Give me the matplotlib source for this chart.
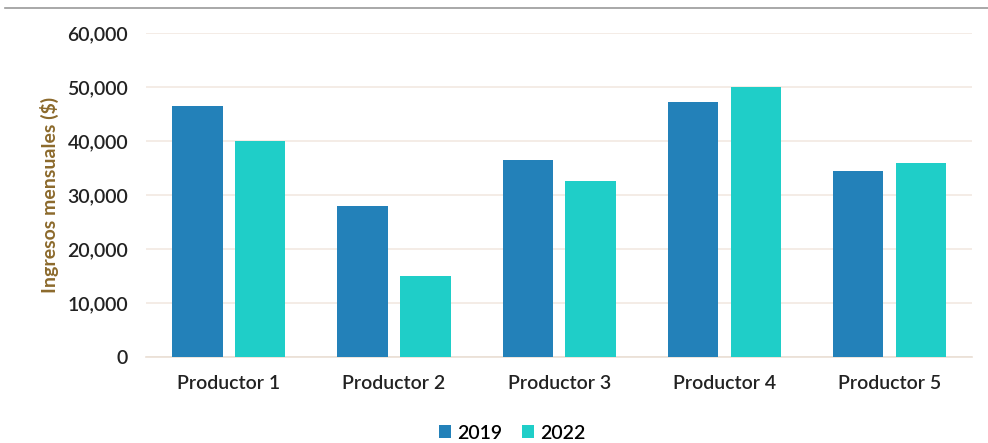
import matplotlib.pyplot as plt
import numpy as np

# Chart data
productores = ['Productor 1', 'Productor 2', 'Productor 3', 'Productor 4', 'Productor 5']
ingresos_2019 = [46600, 27900, 36500, 47200, 34500]
ingresos_2022 = [40000, 15100, 32700, 50000, 35900]
series_labels = ['2019', '2022']

plt.rcParams['font.family'] = ['Lato', 'DejaVu Sans']
plt.rcParams['font.weight'] = 'semibold'

fig = plt.figure(figsize=(9.88, 4.43), dpi=100)
ax = fig.add_axes([0.148, 0.194, 0.836, 0.731])

x = np.arange(len(productores))
width = 0.305
offset = 0.19

ax.bar(x - offset, ingresos_2019, width, color='#2381b9', label=series_labels[0], zorder=3)
ax.bar(x + offset, ingresos_2022, width, color='#1fcec8', label=series_labels[1], zorder=3)

ax.set_xlim(-0.5, len(productores) - 0.5)
ax.set_ylim(0, 60000)
ax.set_yticks(np.arange(0, 60001, 10000))
ax.set_yticklabels([f'{v:,}' for v in range(0, 60001, 10000)])
ax.set_xticks(x)
ax.set_xticklabels(productores)

ax.grid(axis='y', color='#f2e9e1', linewidth=1.2, zorder=0)
for s in ['top', 'right', 'left']:
    ax.spines[s].set_visible(False)
ax.spines['bottom'].set_color('#eadfd5')
ax.spines['bottom'].set_linewidth(1.2)
ax.tick_params(axis='both', length=0, labelsize=14, labelcolor='#222222')
ax.tick_params(axis='y', pad=13)
ax.tick_params(axis='x', pad=13)

ax.set_ylabel('Ingresos mensuales ($)', fontsize=14, fontweight='bold', color='#8c6a2c', labelpad=6)

ax.legend(loc='upper center', bbox_to_anchor=(0.443, -0.155), ncol=2, frameon=False,
          fontsize=14, handlelength=0.65, handleheight=0.65, handletextpad=0.3, columnspacing=1.0)

# thin gray rule along the top of the image
fig.add_artist(plt.Line2D([0.005, 1.0], [0.982, 0.982], color='#9a9a9a', linewidth=1.2))

fig.savefig('out.png', dpi=100)
